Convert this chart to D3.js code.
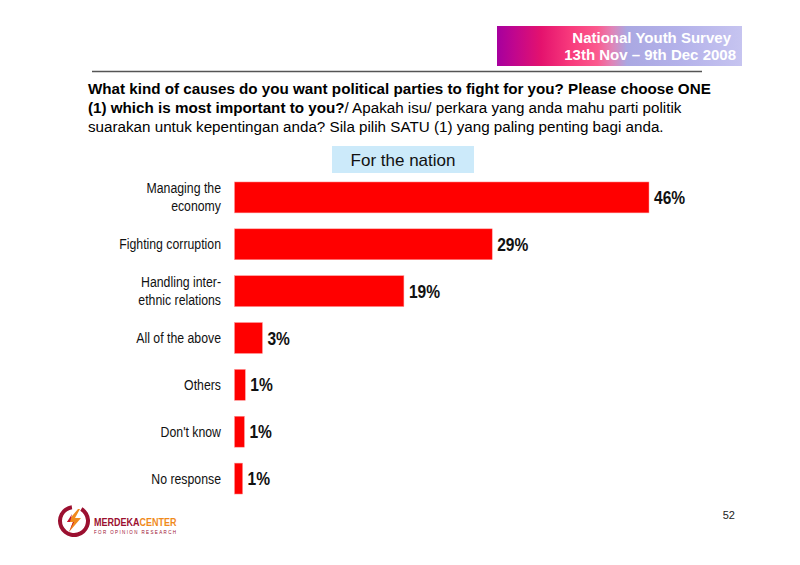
<!DOCTYPE html>
<html>
<head>
<meta charset="utf-8">
<script src="https://cdn.jsdelivr.net/npm/d3@7.9.0/dist/d3.min.js"></script>
<style>
  html, body { margin: 0; padding: 0; background: #fff; }
  svg { display: block; }
  .sans { font-family: "Liberation Sans", Arial, Helvetica, sans-serif; }
</style>
</head>
<body>
<svg id="chart" width="800" height="565"></svg>
<script>
// chart data
const categories = [
  ['Managing the', 'economy'],
  ['Fighting corruption'],
  ['Handling inter-', 'ethnic relations'],
  ['All of the above'],
  ['Others'],
  ["Don't know"],
  ['No response']
];
const values = [46, 28.6, 18.8, 3.1, 1.2, 1.1, 0.9];
const valueLabels = ['46%', '29%', '19%', '3%', '1%', '1%', '1%'];

const svg = d3.select('#chart');
const keys = categories.map(c => c.join(' '));
const NARROW = 0.82; // Arial Narrow is not installed, squeeze Liberation Sans instead

// header banner
const defs = svg.append('defs');
const grad = defs.append('linearGradient').attr('id', 'banner').attr('x1', '0%').attr('x2', '100%');
[['0%', '#a6009e'], ['7%', '#c0068e'], ['18%', '#e4126e'], ['30%', '#f83a7c'], ['41%', '#fb5a8e'],
 ['47%', '#e084b8'], ['53%', '#aaa8e2'], ['75%', '#b4b2ea'], ['100%', '#c6c4f0']]
  .forEach(([o, c]) => grad.append('stop').attr('offset', o).attr('stop-color', c));
svg.append('rect').attr('x', 497).attr('y', 26).attr('width', 245).attr('height', 40).attr('fill', 'url(#banner)');
svg.append('text').attr('class', 'sans').attr('x', 731).attr('y', 43)
  .attr('text-anchor', 'end').attr('font-size', 15).attr('font-weight', 'bold').attr('fill', '#fff')
  .text('National Youth Survey');
svg.append('text').attr('class', 'sans').attr('x', 736).attr('y', 60)
  .attr('text-anchor', 'end').attr('font-size', 15).attr('font-weight', 'bold').attr('fill', '#fff')
  .text('13th Nov \u2013 9th Dec 2008');

svg.append('line').attr('x1', 92).attr('x2', 702).attr('y1', 71.5).attr('y2', 71.5)
  .attr('stroke', '#555').attr('stroke-width', 1.5);

// question
const q = svg.append('text').attr('class', 'sans').attr('font-size', 15.2).attr('fill', '#000');
q.append('tspan').attr('x', 88).attr('y', 94).attr('font-weight', 'bold')
  .text('What kind of causes do you want political parties to fight for you? Please choose ONE');
const l2 = q.append('tspan').attr('x', 88).attr('y', 113);
l2.append('tspan').attr('font-weight', 'bold').text('(1) which is most important to you?');
l2.append('tspan').text('/ Apakah isu/ perkara yang anda mahu parti politik');
q.append('tspan').attr('x', 88).attr('y', 132)
  .text('suarakan untuk kepentingan anda? Sila pilih SATU (1) yang paling penting bagi anda.');

// subtitle box
svg.append('rect').attr('x', 332).attr('y', 146).attr('width', 142).attr('height', 27).attr('fill', '#cceafa');
svg.append('text').attr('class', 'sans').attr('x', 403).attr('y', 165.5).attr('text-anchor', 'middle')
  .attr('font-size', 17).attr('fill', '#111').text('For the nation');

// scales
const x = d3.scaleLinear().domain([0, 46]).range([234.5, 649]);
const y = d3.scaleBand().domain(keys).range([174, 502]).paddingInner(0.34).paddingOuter(0.17);

const data = keys.map((k, i) => ({ key: k, lines: categories[i], value: values[i], label: valueLabels[i] }));

svg.append('g').selectAll('rect').data(data).join('rect')
  .attr('x', x(0)).attr('y', d => y(d.key))
  .attr('width', d => x(d.value) - x(0)).attr('height', y.bandwidth())
  .attr('fill', '#ff0000').attr('stroke', '#ff9a9a').attr('stroke-width', 0.5);

svg.append('g').selectAll('g').data(data).join('g')
  .attr('transform', d => `translate(${x(d.value) + 5},${y(d.key) + y.bandwidth() / 2 + 6.5}) scale(${NARROW},1)`)
  .append('text').attr('class', 'sans')
  .attr('font-size', 19).attr('font-weight', 'bold').attr('fill', '#111')
  .text(d => d.label);

svg.append('g').selectAll('g').data(data).join('g')
  .attr('transform', d => `translate(221,${y(d.key) + y.bandwidth() / 2}) scale(${NARROW},1)`)
  .append('text').attr('class', 'sans').attr('text-anchor', 'end').attr('font-size', 15).attr('fill', '#111')
  .each(function (d) {
    const t = d3.select(this);
    const start = 5 - (d.lines.length - 1) * 9;
    d.lines.forEach((ln, j) => t.append('tspan').attr('x', 0).attr('y', start + j * 18).text(ln));
  });

// page number
svg.append('text').attr('class', 'sans').attr('x', 735).attr('y', 519).attr('text-anchor', 'end')
  .attr('font-size', 11).attr('fill', '#222').text('52');

// logo
const logo = svg.append('g').attr('transform', 'translate(74,521)');
logo.append('path')
  .attr('d', d3.arc()({ innerRadius: 12, outerRadius: 16, startAngle: 0.55, endAngle: 2 * Math.PI - 0.15 }))
  .attr('fill', '#9b1030');
logo.append('path').attr('d', 'M4,-12 L-7,1 L-1,1 L-5,11 L7,-3 L1,-3 L6,-12 Z').attr('fill', '#f08a1c');
logo.append('path').attr('d', 'M-2,-7 L-7,1 L-1,1 L-5,11 L0,1 L-4,1 Z').attr('fill', '#c0102e');
const lt = svg.append('g').attr('transform', `translate(94,525.5) scale(${NARROW},1)`)
  .append('text').attr('class', 'sans').attr('font-size', 11).attr('font-weight', 'bold');
lt.append('tspan').attr('fill', '#9b1030').text('MERDEKA');
lt.append('tspan').attr('fill', '#f08a1c').text('CENTER');
svg.append('text').attr('class', 'sans').attr('x', 94).attr('y', 533.5)
  .attr('font-size', 4.5).attr('textLength', 82).attr('lengthAdjust', 'spacing')
  .attr('fill', '#9b1030').text('FOR OPINION RESEARCH');
</script>
</body>
</html>
